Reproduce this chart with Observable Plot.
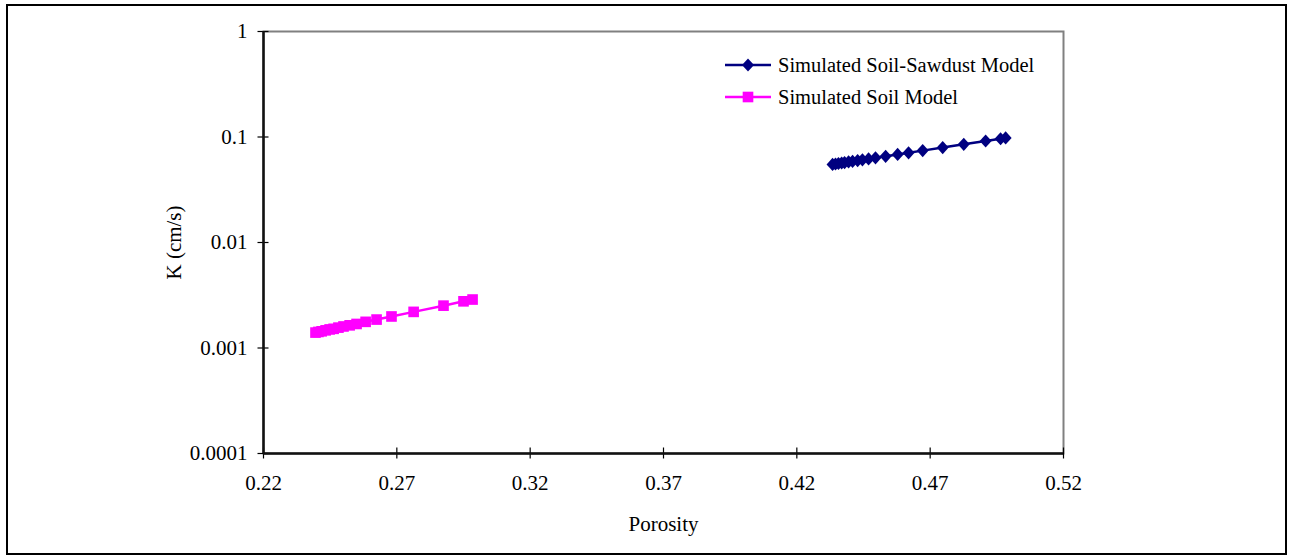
<!DOCTYPE html>
<html><head><meta charset="utf-8">
<script src="https://cdn.jsdelivr.net/npm/d3@7"></script>
<script src="https://cdn.jsdelivr.net/npm/@observablehq/plot@0.6"></script>
<style>
body{margin:0;background:#fff;}
#wrap{position:relative;width:1293px;height:560px;font-family:"Liberation Serif","Times New Roman",serif;}
#border{position:absolute;left:6px;top:4px;width:1281px;height:551px;border:2px solid #000;box-sizing:border-box;}
#wrap svg{position:absolute;left:0;top:0;}
</style></head><body><div id="wrap"><div id="border"></div></div>
<script>
const sawdustPorosity = [0.4334,0.4345,0.4356,0.4368,0.4379,0.4394,0.4409,0.4428,0.4446,0.4469,0.4495,0.4533,0.4578,0.4619,0.4672,0.4747,0.4826,0.4908,0.4964,0.4983];
const sawdustK = [0.0550,0.0555,0.0561,0.0567,0.0572,0.0580,0.0588,0.0598,0.0608,0.0620,0.0635,0.0656,0.0683,0.0708,0.0743,0.0794,0.0852,0.0916,0.0963,0.0979];
const soilPorosity = [0.2395,0.2406,0.2418,0.2433,0.2448,0.2463,0.2481,0.2500,0.2523,0.2549,0.2583,0.2624,0.2680,0.2763,0.2875,0.2950,0.2984];
const soilK = [0.00140,0.00142,0.00144,0.00147,0.00150,0.00152,0.00156,0.00160,0.00164,0.00169,0.00177,0.00186,0.00199,0.00220,0.00252,0.00277,0.00288];
const xTicks = [0.22,0.27,0.32,0.37,0.42,0.47,0.52];
const yTicks = [0.0001,0.001,0.01,0.1,1];
const yTickLabels = ["0.0001","0.001","0.01","0.1","1"];
const seriesNames = ["Simulated Soil-Sawdust Model","Simulated Soil Model"];
const seriesColors = ["#000080","#FF00FF"];
const xLabel = "Porosity";
const yLabel = "K (cm/s)";

const sawdust = sawdustPorosity.map((p,i)=>({p, k: sawdustK[i]}));
const soil = soilPorosity.map((p,i)=>({p, k: soilK[i]}));

const diamondSymbol = {draw(ctx, size){ const r = Math.sqrt(size/Math.PI); ctx.moveTo(0,-r*1.1); ctx.lineTo(r,0); ctx.lineTo(0,r*1.1); ctx.lineTo(-r,0); ctx.closePath(); }};
const FONT = '"Liberation Serif","Times New Roman",serif';

const chart = Plot.plot({
  width: 1293, height: 560,
  marginLeft: 263, marginRight: 230, marginTop: 31, marginBottom: 107,
  style: {fontFamily: FONT, fontSize: "21px", background: "transparent", color: "#000", overflow: "visible"},
  x: {domain: [0.22, 0.52]},
  y: {type: "log", domain: [0.0001, 1]},
  marks: [
    Plot.frame({stroke: "#808080", strokeWidth: 2}),
    Plot.axisX({ticks: xTicks, tickSize: 11, dy: -5.5, tickFormat: () => "", label: null, stroke: "#000", strokeWidth: 1.2}),
    Plot.axisX({ticks: xTicks, tickSize: 0, tickPadding: 22, tickFormat: d3.format(".2f"), fill: "#000", fontSize: 21,
      label: xLabel, labelAnchor: "center", labelOffset: 77, labelArrow: "none"}),
    Plot.axisY({ticks: yTicks, tickSize: 11, dx: 5.5, tickFormat: () => "", label: null, stroke: "#000", strokeWidth: 1.2}),
    Plot.axisY({ticks: yTicks, tickSize: 0, tickPadding: 16, tickFormat: d => yTickLabels[yTicks.indexOf(d)] ?? "", fill: "#000", fontSize: 21,
      label: yLabel, labelAnchor: "center", labelOffset: 97, labelArrow: "none"}),
    Plot.ruleX([0.22], {stroke: "#111", strokeWidth: 2.5}),
    Plot.ruleY([0.0001], {stroke: "#111", strokeWidth: 2.5}),
    Plot.line(soil, {x: "p", y: "k", stroke: seriesColors[1], strokeWidth: 2.5}),
    Plot.dot(soil, {x: "p", y: "k", symbol: "square", r: 6, fill: seriesColors[1], stroke: "none"}),
    Plot.line(sawdust, {x: "p", y: "k", stroke: seriesColors[0], strokeWidth: 2.5}),
    Plot.dot(sawdust, {x: "p", y: "k", symbol: diamondSymbol, r: 6, fill: seriesColors[0], stroke: "none"})
  ]
});
document.getElementById("wrap").appendChild(chart);

// legend overlay
const leg = d3.select("#wrap").append("svg").attr("width", 1293).attr("height", 560).style("pointer-events","none");
const symbols = [d3.symbol().type(diamondSymbol).size(Math.PI*36), d3.symbol().type(d3.symbolSquare).size(Math.PI*36)];
seriesNames.forEach((name, i) => {
  const y = 65 + i*32;
  const g = leg.append("g").attr("transform", `translate(0,${y})`);
  g.append("line").attr("x1", 725).attr("x2", 771).attr("y1", 0).attr("y2", 0).attr("stroke", seriesColors[i]).attr("stroke-width", 2.5);
  g.append("path").attr("d", symbols[i]()).attr("transform", "translate(748,0)").attr("fill", seriesColors[i]);
  g.append("text").attr("x", 778).attr("y", 0).attr("dy", "0.33em").attr("font-family", FONT).attr("font-size", 20.5).attr("fill", "#000").text(name);
});
</script>
</body></html>
